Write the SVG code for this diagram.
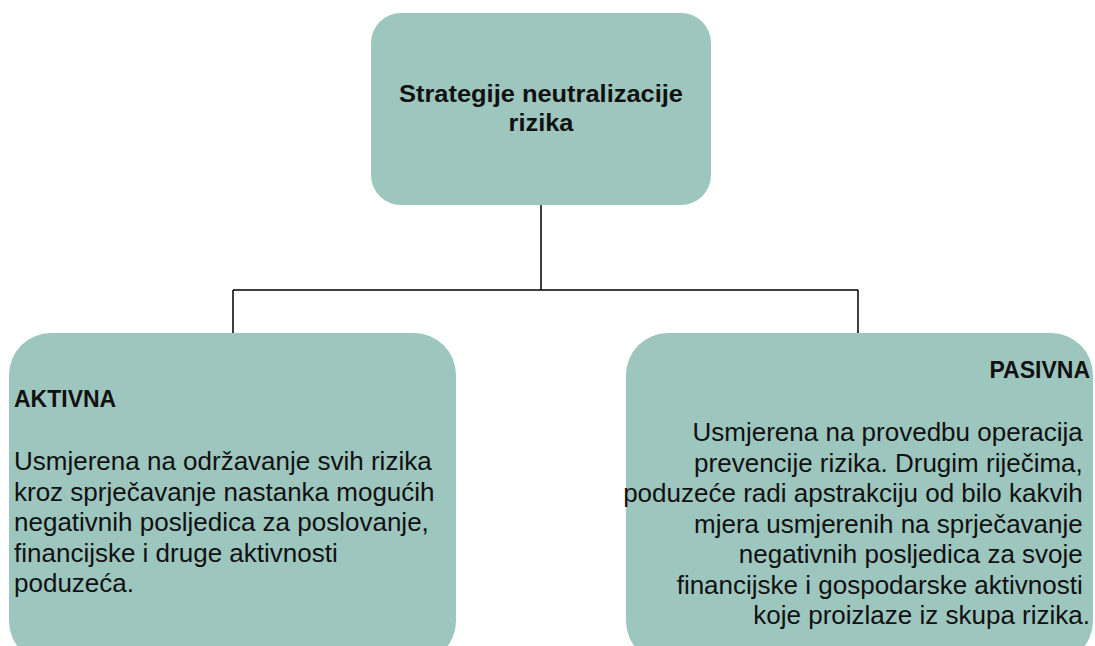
<svg xmlns="http://www.w3.org/2000/svg" width="1095" height="646" viewBox="0 0 1095 646">
<style>
.box{fill:#9cc6be;stroke:none}
.conn{fill:none;stroke:#000;stroke-width:1.5}
.t{font-family:"Liberation Sans",Arial,sans-serif;fill:#111}
.title{font-weight:bold;font-size:24px}
.h{font-weight:bold;font-size:23px}
.b{font-size:26px}
</style>
<rect width="1095" height="646" fill="#fff"/>
<g id="connectors">
<path class="conn" d="M541 205V290M233 290H858M233 290V333M858 290V333"/>
</g>
<g id="root">
<rect class="box" x="371" y="13" width="340" height="192" rx="30"/>
<text class="t title" x="541" y="102" text-anchor="middle" textLength="284" lengthAdjust="spacingAndGlyphs">Strategije neutralizacije</text>
<text class="t title" x="541" y="131" text-anchor="middle" textLength="65" lengthAdjust="spacingAndGlyphs">rizika</text>
</g>
<g id="aktivna">
<rect class="box" x="9" y="333" width="447" height="330" rx="42"/>
<text class="t h" x="14" y="407">AKTIVNA</text>
<text class="t b">
<tspan x="14" y="470">Usmjerena na održavanje svih rizika</tspan>
<tspan x="14" y="501">kroz sprječavanje nastanka mogućih</tspan>
<tspan x="14" y="531">negativnih posljedica za poslovanje,</tspan>
<tspan x="14" y="562">financijske i druge aktivnosti</tspan>
<tspan x="14" y="592">poduzeća.</tspan>
</text>
</g>
<g id="pasivna">
<rect class="box" x="626" y="333" width="467" height="330" rx="42"/>
<text class="t h" x="1090" y="378" text-anchor="end">PASIVNA</text>
<text class="t b" text-anchor="end">
<tspan x="1090" y="441">Usmjerena na provedbu operacija</tspan>
<tspan x="1090" y="472">prevencije rizika. Drugim riječima,</tspan>
<tspan x="1090" y="502">poduzeće radi apstrakciju od bilo kakvih</tspan>
<tspan x="1090" y="533">mjera usmjerenih na sprječavanje</tspan>
<tspan x="1090" y="563">negativnih posljedica za svoje</tspan>
<tspan x="1090" y="594">financijske i gospodarske aktivnosti</tspan>
<tspan x="1090" y="624">koje proizlaze iz skupa rizika.</tspan>
</text>
</g>
</svg>
